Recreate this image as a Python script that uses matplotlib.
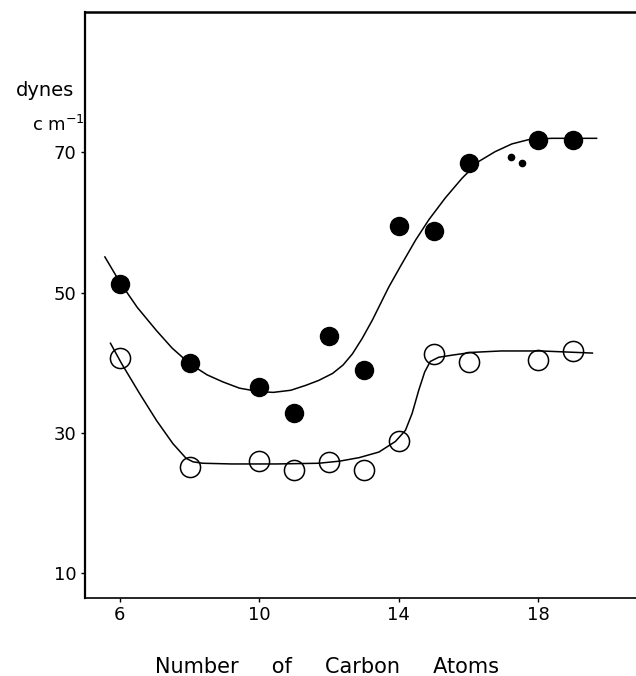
import numpy as np
import matplotlib
matplotlib.use('Agg')
import matplotlib.pyplot as plt

# measured points
carbons = [6, 8, 10, 11, 12, 13, 14, 15, 16, 18, 19]
filled_y = [51.3, 40.0, 36.6, 32.9, 43.9, 39.0, 59.5, 58.8, 68.5, 71.7, 71.7]
open_y = [40.7, 25.2, 26.0, 24.7, 25.9, 24.8, 28.9, 41.2, 40.1, 40.4, 41.7]

# hand drawn curves
upper_x = [5.57, 6.0, 6.5, 7.05, 7.5, 8.0, 8.5, 8.95, 9.43, 10.0, 10.4, 10.9,
           11.33, 11.7, 12.1, 12.4, 12.67, 12.95, 13.24, 13.48, 13.71, 14.05,
           14.48, 14.86, 15.33, 15.81, 16.29, 16.76, 17.24, 17.71, 18.38, 19.67]
upper_y = [55.1, 51.5, 47.9, 44.6, 42.1, 39.9, 38.3, 37.3, 36.4, 35.9, 35.8, 36.1,
           36.8, 37.5, 38.5, 39.7, 41.3, 43.5, 46.1, 48.5, 50.8, 53.8,
           57.5, 60.4, 63.5, 66.3, 68.7, 70.1, 71.2, 71.8, 72.0, 72.0]

lower_x = [5.73, 6.05, 6.57, 7.05, 7.52, 7.9, 8.1, 8.38, 9.2, 10.5, 11.7, 12.3,
           12.86, 13.43, 13.9, 14.19, 14.38, 14.57, 14.74, 14.9, 15.14, 15.52,
           16.1, 16.93, 18.08, 19.55]
lower_y = [42.8, 39.9, 35.6, 31.8, 28.5, 26.4, 25.9, 25.7, 25.6, 25.6, 25.7, 26.0,
           26.5, 27.3, 28.8, 30.4, 32.8, 36.1, 38.7, 40.2, 40.8, 41.1,
           41.5, 41.7, 41.7, 41.4]

# two small ink specks near C17
speck_x = [17.22, 17.54]
speck_y = [69.3, 68.5]

xticks = [6, 10, 14, 18]
yticks = [10, 30, 50, 70]

plt.rcParams['font.family'] = 'DejaVu Sans'

fig = plt.figure(figsize=(6.36, 6.76), dpi=100)
ax = fig.add_axes([85/636, 1 - 598/676, 551/636, 586/676])

ax.plot(upper_x, upper_y, color='black', lw=1.1)
ax.plot(lower_x, lower_y, color='black', lw=1.1)
ax.plot(carbons, filled_y, 'o', color='black', ms=13, ls='none')
ax.plot(carbons, open_y, 'o', mfc='none', mec='black', mew=1.1, ms=14.5, ls='none')
ax.plot(speck_x, speck_y, 'o', color='black', ms=4.5, ls='none')

ax.set_xlim(5.0, 20.8)
ax.set_ylim(6.5, 90.0)
ax.set_xticks(xticks)
ax.set_yticks(yticks)
ax.tick_params(direction='out', length=3, width=1, labelsize=13, pad=3)

ax.spines['right'].set_visible(False)
ax.spines['left'].set_linewidth(1.6)
ax.spines['top'].set_linewidth(1.8)
ax.spines['bottom'].set_linewidth(1.2)

fig.text(45/636, 1 - 96/676, 'dynes', fontsize=14, ha='center', va='baseline')
fig.text(58/636, 1 - 131/676, r'c m$^{\mathregular{-1}}$', fontsize=13,
         ha='center', va='baseline')
fig.text(155/636, 0.004, 'Number     of     Carbon     Atoms', fontsize=15,
         ha='left', va='baseline')

fig.savefig('out.png', dpi=100)
